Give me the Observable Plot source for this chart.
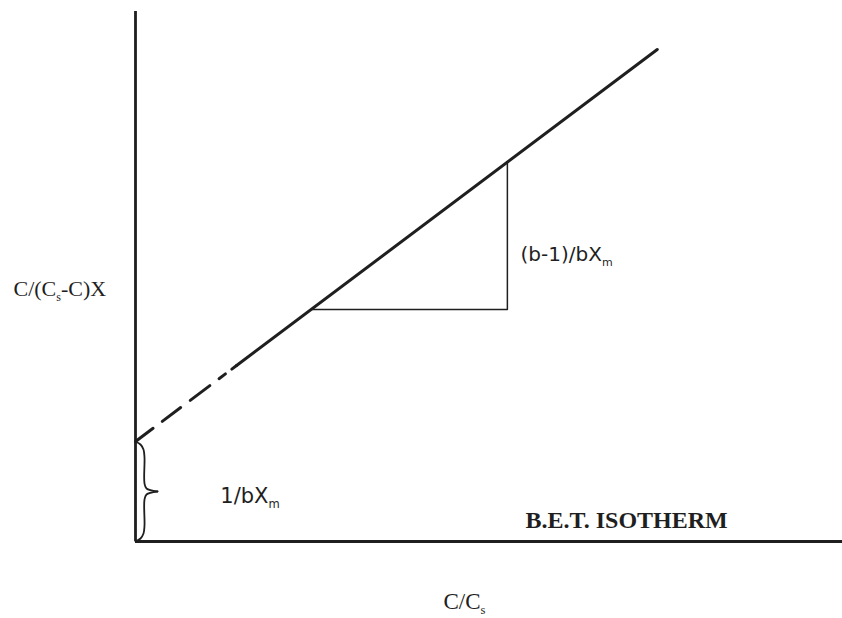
<!DOCTYPE html>
<html><head><meta charset="utf-8">
<script src="https://cdn.jsdelivr.net/npm/d3@7"></script>
<script src="https://cdn.jsdelivr.net/npm/@observablehq/plot@0.6"></script>
<style>html,body{margin:0;padding:0;background:#fff}</style>
</head><body><div id="chart"></div>
<script>
// Linearised B.E.T. plot: y = C/(Cs-C)X against x = C/Cs
const lineX = [0, 0.143, 0.738];      // start (intercept), end of dashed part, end of line
const lineY = [0.2, 0.352, 0.984];
const runX = [0.249, 0.526, 0.526];   // slope triangle
const runY = [0.464, 0.464, 0.759];
const labelTexts = ["C/(C_s-C)X", "(b-1)/bX_m", "1/bX_m", "B.E.T. ISOTHERM", "C/C_s"];

const intercept = lineY[0];
const dashed = [0, 1].map(i => ({x: lineX[i], y: lineY[i]}));
const solid = [1, 2].map(i => ({x: lineX[i], y: lineY[i]}));
const run = runX.map((x, i) => ({x, y: runY[i]}));

// curly brace glyph shape (pixel offset right of the axis, fraction of height)
const bracePx = [0, 5, 8, 9, 9, 11, 22];
const braceT = [0, 0.03, 0.08, 0.16, 0.42, 0.47, 0.5];
const pxPerX = 707;
const brace = [];
bracePx.forEach((p, i) => brace.push({half: "top", x: p / pxPerX, y: intercept * (1 - braceT[i])}));
bracePx.forEach((p, i) => brace.push({half: "bottom", x: p / pxPerX, y: intercept * braceT[i]}));

const ink = "#1f1f1f";
const serif = "'Liberation Serif', 'Times New Roman', serif";
const sans = "'DejaVu Sans', sans-serif";

const label = (i, x, y, opts) => Plot.text([labelTexts[i]], {
  x: () => x, y: () => y, text: d => d, textAnchor: "start", lineAnchor: "bottom", fill: ink, ...opts
});

const svg = Plot.plot({
  width: 842, height: 618,
  marginLeft: 135, marginRight: 0, marginTop: 11, marginBottom: 77,
  x: {domain: [0, 1], axis: null},
  y: {domain: [0, 1.06], axis: null},
  style: {background: "#fff", overflow: "visible"},
  marks: [
    Plot.ruleX([0], {y1: 0, y2: 1.06, stroke: ink, strokeWidth: 2.8}),
    Plot.ruleY([0], {x1: 0, x2: 1, stroke: ink, strokeWidth: 2.8}),
    Plot.line(dashed, {x: "x", y: "y", stroke: ink, strokeWidth: 3, strokeDasharray: "22,11.5,23,12,24.5,11.5,8,8"}),
    Plot.line(solid, {x: "x", y: "y", stroke: ink, strokeWidth: 3, strokeLinecap: "round"}),
    Plot.line(run, {x: "x", y: "y", stroke: ink, strokeWidth: 1.5}),
    Plot.line(brace, {x: "x", y: "y", z: "half", stroke: ink, strokeWidth: 1.8, curve: "catmull-rom"}),
    label(0, -0.1726, 0.492, {fontFamily: serif, fontSize: 22}),
    label(1, 0.5446, 0.562, {fontFamily: sans, fontSize: 20}),
    label(2, 0.120, 0.078, {fontFamily: sans, fontSize: 21}),
    label(3, 0.5516, 0.028, {fontFamily: serif, fontSize: 24, fontWeight: "bold"}),
    label(4, 0.4356, -0.134, {fontFamily: serif, fontSize: 23})
  ]
});

// render "_x" as a subscript
d3.select(svg).selectAll("text").each(function() {
  const s = this.textContent;
  if (!s.includes("_")) return;
  const sel = d3.select(this);
  sel.text(null);
  const parts = s.split(/_(\w)/);
  parts.forEach((p, i) => {
    if (i % 2 === 1) sel.append("tspan").attr("font-size", "0.55em").attr("dy", 5).text(p);
    else if (p) sel.append("tspan").attr("dy", i > 0 ? -5 : null).text(p);
  });
});

document.getElementById("chart").appendChild(svg);
</script>
</body></html>
